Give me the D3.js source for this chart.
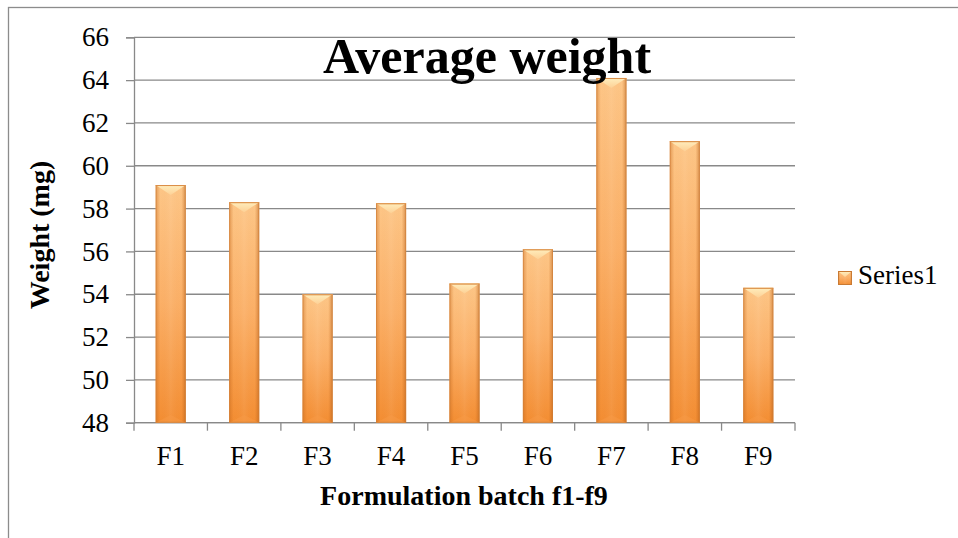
<!DOCTYPE html>
<html>
<head>
<meta charset="utf-8">
<script src="https://cdn.jsdelivr.net/npm/d3@7"></script>
<style>
  html, body { margin: 0; padding: 0; background: #ffffff; }
  svg { display: block; }
  text { font-family: "Liberation Serif", "Times New Roman", serif; fill: #000; }
</style>
</head>
<body>
<svg id="chart" width="958" height="538"></svg>
<script>
// Average tablet weight per formulation batch
const categories = ["F1", "F2", "F3", "F4", "F5", "F6", "F7", "F8", "F9"];
const weights = [59.1, 58.3, 54.0, 58.25, 54.5, 56.1, 64.1, 61.15, 54.3];
const yTicks = [48, 50, 52, 54, 56, 58, 60, 62, 64, 66];
const seriesName = "Series1";
const chartTitle = "Average weight";
const xTitle = "Formulation batch f1-f9";
const yTitle = "Weight (mg)";

const svg = d3.select("#chart");
const plot = { left: 134, right: 795, top: 37.3, bottom: 422.7 };
const gridColor = "#898989";

// Outer chart frame
svg.append("rect")
  .attr("x", 8.5).attr("y", 7.5)
  .attr("width", 1000).attr("height", 600)
  .attr("fill", "none").attr("stroke", "#8c8c8c").attr("stroke-width", 1.3);

const x = d3.scaleBand().domain(categories).range([plot.left, plot.right]).paddingInner(0).paddingOuter(0);
const y = d3.scaleLinear().domain([48, 66]).range([plot.bottom, plot.top]);

// Gradients for the bevelled bars
const defs = svg.append("defs");
const body = defs.append("linearGradient").attr("id", "barBody")
  .attr("x1", 0).attr("y1", 0).attr("x2", 0).attr("y2", 1);
body.append("stop").attr("offset", "0%").attr("stop-color", "#fdc687");
body.append("stop").attr("offset", "50%").attr("stop-color", "#fbaf66");
body.append("stop").attr("offset", "100%").attr("stop-color", "#f38d32");

const edges = defs.append("linearGradient").attr("id", "barEdges")
  .attr("x1", 0).attr("y1", 0).attr("x2", 1).attr("y2", 0);
edges.append("stop").attr("offset", "0%").attr("stop-color", "#c4661a").attr("stop-opacity", 0.45);
edges.append("stop").attr("offset", "15%").attr("stop-color", "#c4661a").attr("stop-opacity", 0);
edges.append("stop").attr("offset", "50%").attr("stop-color", "#ffffff").attr("stop-opacity", 0.06);
edges.append("stop").attr("offset", "85%").attr("stop-color", "#c4661a").attr("stop-opacity", 0);
edges.append("stop").attr("offset", "100%").attr("stop-color", "#a85412").attr("stop-opacity", 0.5);

const cap = defs.append("linearGradient").attr("id", "barCap")
  .attr("x1", 0).attr("y1", 0).attr("x2", 0).attr("y2", 1);
cap.append("stop").attr("offset", "0%").attr("stop-color", "#fff0c0");
cap.append("stop").attr("offset", "100%").attr("stop-color", "#fdd196");

// Horizontal gridlines
svg.append("g").selectAll("line").data(yTicks).join("line")
  .attr("x1", plot.left).attr("x2", plot.right)
  .attr("y1", d => y(d)).attr("y2", d => y(d))
  .attr("stroke", gridColor).attr("stroke-width", 1.3);

// Y axis
const yAxis = svg.append("g").attr("transform", `translate(${plot.left},0)`)
  .call(d3.axisLeft(y).tickValues(yTicks).tickSize(8).tickPadding(17).tickFormat(d3.format("d")));
yAxis.select(".domain").attr("stroke", gridColor).attr("stroke-width", 1.3);
yAxis.selectAll(".tick line").attr("stroke", gridColor).attr("stroke-width", 1.3);
yAxis.selectAll(".tick text").attr("font-size", 27).attr("font-family", "Liberation Serif").attr("fill", "#000");

// X axis with tick marks on the category boundaries
const xAxisG = svg.append("g").attr("transform", `translate(0,${plot.bottom})`);
xAxisG.append("line").attr("x1", plot.left).attr("x2", plot.right)
  .attr("stroke", gridColor).attr("stroke-width", 1.3);
const boundaries = categories.map(c => x(c)).concat([x(categories[categories.length - 1]) + x.step()]);
xAxisG.selectAll("line.tk").data(boundaries).join("line").attr("class", "tk")
  .attr("x1", d => d).attr("x2", d => d).attr("y1", 0).attr("y2", 8)
  .attr("stroke", gridColor).attr("stroke-width", 1.3);
xAxisG.selectAll("text").data(categories).join("text")
  .attr("x", d => x(d) + x.bandwidth() / 2).attr("y", 42)
  .attr("text-anchor", "middle").attr("font-size", 27).text(d => d);

// Bars
const barW = x.step() * 0.41;
const bars = svg.append("g").selectAll("g").data(categories.map((c, i) => ({ c, v: weights[i] }))).join("g");
bars.each(function (d) {
  const g = d3.select(this);
  const x0 = x(d.c) + (x.bandwidth() - barW) / 2;
  const x1 = x0 + barW;
  const xc = (x0 + x1) / 2;
  const y0 = y(d.v);
  const yb = y(48);
  g.append("rect").attr("x", x0).attr("y", y0).attr("width", barW).attr("height", yb - y0)
    .attr("fill", "url(#barBody)");
  g.append("rect").attr("x", x0).attr("y", y0).attr("width", barW).attr("height", yb - y0)
    .attr("fill", "url(#barEdges)");
  // top bevel
  g.append("polygon")
    .attr("points", [[x0, y0], [x1, y0], [xc, y0 + 10]].map(p => p.join(",")).join(" "))
    .attr("fill", "url(#barCap)").attr("opacity", 0.95);
  g.append("line").attr("x1", x0).attr("x2", x1).attr("y1", y0 + 0.5).attr("y2", y0 + 0.5)
    .attr("stroke", "#e9a35c").attr("stroke-width", 1);
  // bottom bevel
  g.append("polygon")
    .attr("points", [[x0, yb], [x1, yb], [xc, yb - 8]].map(p => p.join(",")).join(" "))
    .attr("fill", "#f79a45").attr("opacity", 0.5);
  // thin outline
  g.append("rect").attr("x", x0 + 0.5).attr("y", y0 + 0.5).attr("width", barW - 1).attr("height", yb - y0 - 1)
    .attr("fill", "none").attr("stroke", "#d0803a").attr("stroke-opacity", 0.6).attr("stroke-width", 1);
});

// Title
svg.append("text").attr("x", 487).attr("y", 73).attr("text-anchor", "middle")
  .attr("font-size", 50).attr("font-weight", "bold").text(chartTitle);

// Axis titles
svg.append("text").attr("x", 464).attr("y", 505).attr("text-anchor", "middle")
  .attr("font-size", 28).attr("font-weight", "bold").text(xTitle);
svg.append("text").attr("transform", "translate(49,235) rotate(-90)").attr("text-anchor", "middle")
  .attr("font-size", 28).attr("font-weight", "bold").text(yTitle);

// Legend
const lg = svg.append("g").attr("transform", "translate(838,271)");
lg.append("rect").attr("width", 14).attr("height", 14).attr("fill", "url(#barBody)");
lg.append("rect").attr("width", 14).attr("height", 14).attr("fill", "url(#barEdges)");
lg.append("polygon").attr("points", "0,0 14,0 7,6").attr("fill", "url(#barCap)");
lg.append("rect").attr("x", 0.5).attr("y", 0.5).attr("width", 13).attr("height", 13)
  .attr("fill", "none").attr("stroke", "#c97a33").attr("stroke-width", 1);
lg.append("text").attr("x", 20).attr("y", 13).attr("font-size", 27).text(seriesName);
</script>
</body>
</html>
